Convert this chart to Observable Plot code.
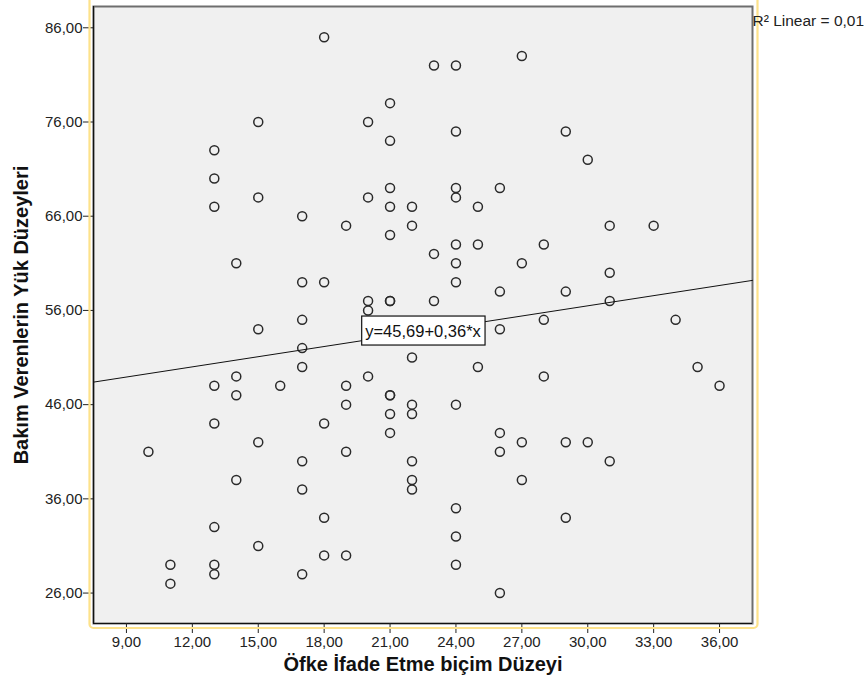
<!DOCTYPE html>
<html>
<head>
<meta charset="utf-8">
<script src="https://cdn.jsdelivr.net/npm/d3@7"></script>
<script src="https://cdn.jsdelivr.net/npm/@observablehq/plot@0.6"></script>
<style>
  html, body { margin: 0; padding: 0; background: #fff; }
</style>
</head>
<body>
<div id="chart"></div>
<script>
// Öfke İfade Etme biçim Düzeyi (x) and Bakım Verenlerin Yük Düzeyleri (y)
const xValues = [
  18, 15, 13, 13, 15, 13, 17, 23, 24, 27, 21, 20, 21, 24, 21, 20, 21, 22, 24, 24,
  26, 25, 29, 30, 19, 22, 31, 33, 14, 17, 18, 17, 15, 17, 17, 14, 13, 16, 14, 13,
  21, 24, 25, 28, 23, 24, 27, 24, 26, 20, 21, 21, 23, 20, 26, 28, 22, 25, 28, 20,
  19, 21, 21, 19, 22, 22, 21, 24, 18, 31, 29, 31, 34, 35, 36, 10, 15, 17, 17, 14,
  18, 18, 13, 15, 11, 11, 13, 13, 17, 21, 19, 22, 22, 22, 26, 26, 27, 27, 24, 24,
  24, 19, 26, 29, 30, 31, 29
];
const yValues = [
  85, 76, 73, 70, 68, 67, 66, 82, 82, 83, 78, 76, 74, 75, 69, 68, 67, 67, 69, 68,
  69, 67, 75, 72, 65, 65, 65, 65, 61, 59, 59, 55, 54, 52, 50, 49, 48, 48, 47, 44,
  64, 63, 63, 63, 62, 61, 61, 59, 58, 57, 57, 57, 57, 56, 54, 55, 51, 50, 49, 49,
  48, 47, 47, 46, 46, 45, 45, 46, 44, 60, 58, 57, 55, 50, 48, 41, 42, 40, 37, 38,
  34, 30, 33, 31, 29, 27, 29, 28, 28, 43, 41, 40, 38, 37, 43, 41, 42, 38, 35, 32,
  29, 30, 26, 42, 42, 40, 34
];
const xTicks = [9, 12, 15, 18, 21, 24, 27, 30, 33, 36];
const yTicks = [26, 36, 46, 56, 66, 76, 86];
const xDomain = [7.5, 37.5];
const yDomain = [22.77, 88.26];
const intercept = 45.69;
const slope = 0.36;
const equationLabel = "y=45,69+0,36*x";
const r2Label = "R² Linear = 0,01";
const xTitle = "Öfke İfade Etme biçim Düzeyi";
const yTitle = "Bakım Verenlerin Yük Düzeyleri";

const points = xValues.map((x, i) => ({x, y: yValues[i]}));
const fitLine = xDomain.map(x => ({x, y: intercept + slope * x}));
const mid = (xDomain[0] + xDomain[1]) / 2;
const eq = [{x: mid, y: intercept + slope * mid, t: equationLabel}];
const fmt = d => d.toFixed(2).replace(".", ",");

const plot = Plot.plot({
  width: 867,
  height: 693,
  marginLeft: 93,
  marginRight: 115,
  marginTop: 6,
  marginBottom: 70,
  style: {fontFamily: "'Liberation Sans', Arial, sans-serif", background: "#fff", color: "#222", overflow: "visible"},
  x: {domain: xDomain},
  y: {domain: yDomain},
  marks: [
    Plot.frame({fill: "#f0f0f0", stroke: "#6e6e6e", strokeWidth: 2}),
    Plot.ruleX([xDomain[0]], {stroke: "#111", strokeWidth: 1.2}),
    Plot.ruleY([yDomain[0]], {stroke: "#111", strokeWidth: 1.2}),
    Plot.axisX({ticks: xTicks, tickFormat: fmt, tickSize: 10, tickPadding: 3, fontSize: 15, label: null}),
    Plot.axisY({ticks: yTicks, tickFormat: fmt, tickSize: 10, tickPadding: 1, fontSize: 15, label: null}),
    Plot.frame({stroke: "#fde28a", strokeWidth: 2.2, rx: 4, insetLeft: -4, insetRight: -5, insetBottom: -4.5, insetTop: -15}),
    Plot.dot(points, {x: "x", y: "y", r: 4.5, stroke: "#2a2a2a", strokeWidth: 1.5, fill: "none"}),
    Plot.line(fitLine, {x: "x", y: "y", stroke: "#111", strokeWidth: 1}),
    Plot.text(eq, {x: "x", y: "y", text: "t", fontSize: 16.5, fill: "#111"}),
    Plot.text([r2Label], {frameAnchor: "top-right", textAnchor: "start", lineAnchor: "top", dy: 8, fontSize: 15.5, fill: "#222"}),
    Plot.text([yTitle], {frameAnchor: "left", textAnchor: "middle", rotate: -90, dx: -72, fontSize: 20, fontWeight: "bold", fill: "#111"}),
    Plot.text([xTitle], {frameAnchor: "bottom", textAnchor: "middle", dy: 47, fontSize: 20, fontWeight: "bold", fill: "#111"})
  ]
});
document.getElementById("chart").appendChild(plot);

// white box with border behind the equation label
const ns = "http://www.w3.org/2000/svg";
for (const t of plot.querySelectorAll("text")) {
  if (t.textContent !== equationLabel) continue;
  const b = t.getBBox();
  const rect = document.createElementNS(ns, "rect");
  rect.setAttribute("x", b.x - 3.5);
  rect.setAttribute("y", b.y - 5.5);
  rect.setAttribute("width", b.width + 7);
  rect.setAttribute("height", b.height + 11);
  rect.setAttribute("fill", "#fff");
  rect.setAttribute("stroke", "#111");
  rect.setAttribute("stroke-width", "1.2");
  const tr = t.getAttribute("transform");
  if (tr) rect.setAttribute("transform", tr);
  t.parentNode.insertBefore(rect, t);
}
</script>
</body>
</html>
